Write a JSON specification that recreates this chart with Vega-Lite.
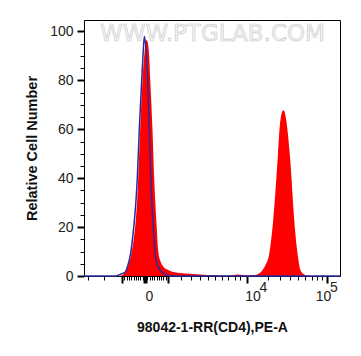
{
  "$schema": "https://vega.github.io/schema/vega-lite/v6.json",
  "width": 256,
  "height": 256,
  "autosize": "none",
  "padding": {"left": 84, "top": 20, "right": 21, "bottom": 80},
  "background": "white",
  "config": {
    "view": {"stroke": "black", "strokeWidth": 1},
    "font": "Liberation Sans",
    "axis": {"labelFont": "Liberation Sans", "titleFont": "Liberation Sans", "labelColor": "#222", "tickColor": "black", "domain": false, "grid": false}
  },
  "datasets": {
    "sample": [
      {"pos": 0, "count": 0}, {"pos": 34, "count": 0}, {"pos": 38, "count": 0.3}, {"pos": 41, "count": 1.5},
      {"pos": 44, "count": 4}, {"pos": 47.5, "count": 9.4}, {"pos": 50, "count": 16}, {"pos": 51.8, "count": 23},
      {"pos": 53.2, "count": 31}, {"pos": 54.2, "count": 40}, {"pos": 56.2, "count": 60}, {"pos": 58.5, "count": 80},
      {"pos": 60.2, "count": 90}, {"pos": 61.7, "count": 95.5}, {"pos": 62.7, "count": 96.5}, {"pos": 64, "count": 95}, {"pos": 65.2, "count": 90},
      {"pos": 66.3, "count": 80}, {"pos": 68.5, "count": 60}, {"pos": 70.2, "count": 40}, {"pos": 71.2, "count": 31},
      {"pos": 72.7, "count": 20}, {"pos": 74.3, "count": 10}, {"pos": 76.5, "count": 6}, {"pos": 79, "count": 4},
      {"pos": 84, "count": 2.5}, {"pos": 91, "count": 1.5}, {"pos": 101, "count": 1}, {"pos": 116, "count": 0.6},
      {"pos": 131, "count": 0.3}, {"pos": 141, "count": 0.1}, {"pos": 148, "count": 0.3}, {"pos": 154, "count": 0.6},
      {"pos": 159, "count": 0.4}, {"pos": 164, "count": 0.2}, {"pos": 171, "count": 0.4}, {"pos": 174, "count": 0.8},
      {"pos": 178.5, "count": 2.4}, {"pos": 181.5, "count": 4.5}, {"pos": 185, "count": 8.5}, {"pos": 189, "count": 22},
      {"pos": 193.8, "count": 48.8}, {"pos": 195.7, "count": 61}, {"pos": 197.3, "count": 66}, {"pos": 198.5, "count": 67.5}, {"pos": 199.5, "count": 67.8},
      {"pos": 200.7, "count": 67}, {"pos": 202.5, "count": 63}, {"pos": 206, "count": 48.8}, {"pos": 210.5, "count": 21.5},
      {"pos": 214, "count": 7.9}, {"pos": 216.5, "count": 2.4}, {"pos": 219.5, "count": 0.8}, {"pos": 222.5, "count": 0.2},
      {"pos": 226, "count": 0}, {"pos": 256, "count": 0}
    ],
    "control": [
      {"pos": 0, "count": 0}, {"pos": 31, "count": 0}, {"pos": 34, "count": 0.3}, {"pos": 37, "count": 0.8},
      {"pos": 41, "count": 1.5}, {"pos": 44, "count": 4.5}, {"pos": 46.7, "count": 9.4}, {"pos": 49, "count": 17},
      {"pos": 52, "count": 31}, {"pos": 53.3, "count": 40}, {"pos": 55.3, "count": 60}, {"pos": 57.7, "count": 80},
      {"pos": 59, "count": 90}, {"pos": 60.3, "count": 98}, {"pos": 61.5, "count": 95}, {"pos": 62.5, "count": 90},
      {"pos": 63.7, "count": 80}, {"pos": 65.3, "count": 60}, {"pos": 66.5, "count": 45}, {"pos": 67.7, "count": 31},
      {"pos": 69.3, "count": 20}, {"pos": 71, "count": 9.4}, {"pos": 73, "count": 5}, {"pos": 76, "count": 2.5},
      {"pos": 80, "count": 1}, {"pos": 84, "count": 0.2}, {"pos": 88, "count": 0}, {"pos": 256, "count": 0}
    ],
    "mark": [{"pos": 128.5, "count": 98.8, "text": "WWW.PTGLAB.COM"}]
  },
  "resolve": {"axis": {"x": "independent", "y": "independent"}},
  "layer": [
    {
      "data": {"name": "sample"},
      "mark": {"type": "area", "color": "#ff0000", "interpolate": "monotone"},
      "encoding": {
        "x": {
          "field": "pos", "type": "quantitative",
          "scale": {"domain": [0, 256], "nice": false, "zero": false},
          "axis": {
            "orient": "bottom",
            "title": "98042-1-RR(CD4),PE-A",
            "titleFontSize": 14, "titleFontWeight": "bold", "titleColor": "#111", "titlePadding": 17,
            "values": [4, 20, 38, 40.3, 42.6, 44.9, 47.2, 49.5, 51.8, 54.1, 56.4, 58.7, 61, 63.3, 65.6, 67.9, 70.2, 72.5, 74.8, 77.1, 79.4, 81.7, 84, 97, 107, 116, 124, 131, 138, 144, 151, 156, 163, 184, 196, 206, 214, 221, 228, 233, 238, 242.5],
            "labelExpr": "datum.value == 61 ? '0' : (datum.value == 163 || datum.value == 242.5) ? '10' : ''",
            "labelFontSize": 14, "labelPadding": 6, "labelFlush": false, "labelOverlap": false,
            "labelOffset": {"condition": [{"test": "datum.value == 61", "value": 4}, {"test": "datum.value == 163", "value": 5.5}, {"test": "datum.value == 242.5", "value": -3.5}], "value": 0},
            "tickSize": {"condition": {"test": "indexof([38, 61, 84, 163, 242.5], datum.value) < 0", "value": 4}, "value": 7},
            "tickWidth": {"condition": [{"test": "datum.value == 61", "value": 4}, {"test": "indexof([38, 84, 163, 242.5], datum.value) >= 0", "value": 2}], "value": 1}
          }
        },
        "y": {
          "field": "count", "type": "quantitative",
          "scale": {"domain": [0, 104.7], "nice": false, "zero": false},
          "axis": {
            "orient": "left",
            "title": "Relative Cell Number",
            "titleFontSize": 14.5, "titleFontWeight": "bold", "titleColor": "#111", "titlePadding": 10,
            "values": [0, 5, 10, 15, 20, 25, 30, 35, 40, 45, 50, 55, 60, 65, 70, 75, 80, 85, 90, 95, 100],
            "labelExpr": "datum.value % 20 == 0 ? datum.label : ''",
            "labelFontSize": 14, "labelPadding": 4, "labelOverlap": false,
            "tickSize": {"condition": {"test": "datum.value % 20 != 0", "value": 4}, "value": 7},
            "tickWidth": {"condition": {"test": "datum.value % 20 != 0", "value": 1}, "value": 2}
          }
        }
      }
    },
    {
      "data": {"name": "control"},
      "mark": {"type": "line", "color": "#2a2aa0", "strokeWidth": 1.5, "interpolate": "monotone"},
      "encoding": {
        "x": {
          "field": "pos", "type": "quantitative",
          "scale": {"domain": [0, 256], "nice": false, "zero": false},
          "axis": {
            "orient": "bottom", "title": null, "ticks": false, "tickSize": 0,
            "values": [163, 242.5],
            "labelExpr": "datum.value == 163 ? '4' : '5'",
            "labelFontSize": 14, "labelPadding": 4, "labelFlush": false, "labelOverlap": false,
            "labelOffset": {"condition": {"test": "datum.value == 163", "value": 16}, "value": 7}
          }
        },
        "y": {
          "field": "count", "type": "quantitative",
          "scale": {"domain": [0, 104.7], "nice": false, "zero": false},
          "axis": null
        }
      }
    },
    {
      "data": {"name": "mark"},
      "mark": {"type": "text", "font": "DejaVu Sans", "fontSize": 23, "fill": "#f4f4f4", "stroke": "#c8c8c8", "strokeWidth": 0.6, "baseline": "middle", "align": "center"},
      "encoding": {
        "x": {"field": "pos", "type": "quantitative", "scale": {"domain": [0, 256], "nice": false, "zero": false}, "axis": null},
        "y": {"field": "count", "type": "quantitative", "scale": {"domain": [0, 104.7], "nice": false, "zero": false}, "axis": null},
        "text": {"field": "text"}
      }
    }
  ]
}
